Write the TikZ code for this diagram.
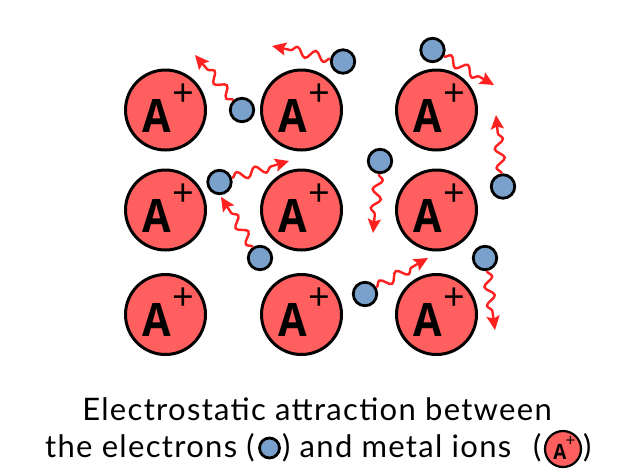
\documentclass[tikz,border=0pt]{standalone}
\usepackage{fontspec}
\setmainfont[LetterSpace=4.2]{Lato}
\newfontfamily\ionfont[BoldFeatures={FakeStretch=0.9}]{Open Sans}
\newfontfamily\signfont{Open Sans}
\usetikzlibrary{decorations.pathmorphing,arrows.meta}
\definecolor{ionred}{HTML}{FF5F5F}
\definecolor{elblue}{HTML}{7AA0CC}
\definecolor{wigred}{HTML}{FF2020}
\tikzset{
  x=1pt,y=-1pt,
  ion/.style={circle,draw=black,fill=ionred,line width=3pt,minimum size=80pt,inner sep=0pt},
  ionletter/.style={font=\ionfont\fontsize{46}{46}\selectfont\bfseries,text=black,inner sep=0pt},
  ionsign/.style={font=\signfont\fontsize{38}{38}\selectfont,text=black,inner sep=0pt},
  smallion/.style={circle,draw=black,fill=ionred,line width=2.2pt,minimum size=36pt,inner sep=0pt},
  smallletter/.style={font=\ionfont\fontsize{21}{21}\selectfont\bfseries,text=black,inner sep=0pt},
  smallsign/.style={font=\signfont\fontsize{17}{17}\selectfont,text=black,inner sep=0pt},
  electron/.style={circle,draw=black,fill=elblue,line width=2.8pt,minimum size=23.5pt,inner sep=0pt},
  wiggle/.style={draw=wigred,line width=2.4pt,
    -{Stealth[length=14pt,width=13pt,inset=2.5pt]},
    decorate,decoration={snake,amplitude=4.6pt,segment length=19pt,post length=11pt,pre length=0pt}},
  caption/.style={font=\fontsize{31}{31}\selectfont,text=black,inner sep=0pt},
}
\begin{document}
\begin{tikzpicture}
\useasboundingbox (0,0) rectangle (628,472);
\fill[white] (0,0) rectangle (628,472);
% ions
\foreach \n/\px/\py in {a/165.5/110,b/301.5/110,c/436.5/110,d/165.5/210,e/301.5/210,f/436.5/210,g/165.5/314.5,h/301.5/314.5,i/436.5/314.5}{
  \node[ion] (ion\n) at (\px,\py) {};
  \node[ionletter] (lab\n) at (\px-9,\py+6) {A};
  \node[ionsign] (sign\n) at (\px+17.5,\py-15) {+};
}
% electrons
\node[electron] (e1) at (242,110) {};
\node[electron] (e2) at (343,61.5) {};
\node[electron] (e3) at (432.5,50) {};
\node[electron] (e4) at (503,186.5) {};
\node[electron] (e5) at (380,161) {};
\node[electron] (e6) at (219.5,182) {};
\node[electron] (e7) at (260,258) {};
\node[electron] (e8) at (365,294) {};
\node[electron] (e9) at (485,258) {};
% arrow ends
\coordinate (t1) at (195,55);
\coordinate (t2) at (272,46);
\coordinate (t3) at (494,85);
\coordinate (t4) at (496,115);
\coordinate (t5) at (373,233);
\coordinate (t6) at (289,161);
\coordinate (t7) at (221,197);
\coordinate (t8) at (428,258);
\coordinate (t9) at (495,330);
\draw[wiggle] (e1) -- (t1);
\draw[wiggle] (e2) -- (t2);
\draw[wiggle] (e3) -- (t3);
\draw[wiggle] (e4) -- (t4);
\draw[wiggle] (e5) -- (t5);
\draw[wiggle] (e6) -- (t6);
\draw[wiggle] (e7) -- (t7);
\draw[wiggle] (e8) -- (t8);
\draw[wiggle] (e9) -- (t9);
% caption
\node[caption,anchor=base] (cap1) at (317,420) {Electrostatic attraction between};
\node[caption,anchor=base west] (cap2) at (45,457) {the electrons (};
\node[electron,minimum size=20pt] (le) at (269.5,448) {};
\node[caption,anchor=base west] (cap3) at (282,457) {) and metal ions};
\node[caption,anchor=base west] (cap5) at (533,457) {(};
\node[smallion] (li) at (563,449) {};
\node[smallletter] (lia) at (560,452) {A};
\node[smallsign] (lis) at (570.5,441) {+};
\node[caption,anchor=base west] (cap4) at (583,457) {)};
\end{tikzpicture}
\end{document}
